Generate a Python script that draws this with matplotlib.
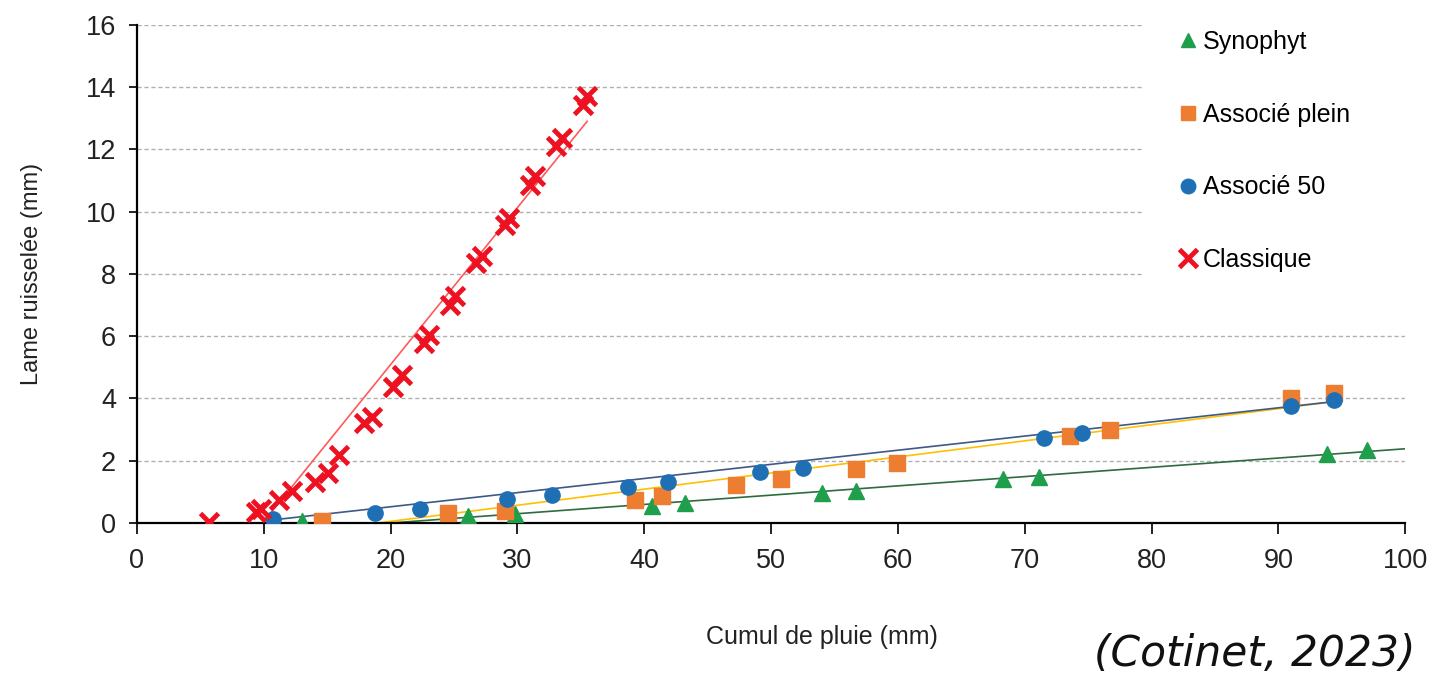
import numpy as np
import matplotlib
matplotlib.use("Agg")
from matplotlib import pyplot as plt
from matplotlib.patches import Rectangle

plt.rcParams['font.family'] = ['Liberation Sans', 'DejaVu Sans']

# Synophyt
syn_x = [13.0, 26.1, 29.8, 40.6, 43.2, 54.0, 56.7, 68.3, 71.1, 93.8, 97.0]
syn_y = [0.05, 0.22, 0.30, 0.55, 0.65, 0.96, 1.04, 1.40, 1.47, 2.22, 2.35]
# Associe plein
ap_x = [14.6, 24.5, 29.0, 39.3, 41.4, 47.2, 50.8, 56.7, 59.9, 73.6, 76.7, 91.0, 94.4]
ap_y = [0.06, 0.31, 0.40, 0.74, 0.87, 1.21, 1.40, 1.74, 1.93, 2.80, 2.99, 4.01, 4.18]
# Associe 50
a50_x = [10.7, 18.8, 22.3, 29.2, 32.7, 38.7, 41.9, 49.1, 52.5, 71.5, 74.5, 91.0, 94.4]
a50_y = [0.12, 0.33, 0.46, 0.76, 0.89, 1.17, 1.32, 1.65, 1.78, 2.73, 2.88, 3.76, 3.96]
# Classique
cl_x = [5.7, 9.4, 9.8, 11.2, 12.2, 14.0, 15.1, 15.9, 17.9, 18.5, 20.2, 20.9, 22.6, 23.0,
        24.7, 25.1, 26.7, 27.2, 29.0, 29.3, 31.0, 31.4, 33.0, 33.5, 35.2, 35.5]
cl_y = [0.03, 0.36, 0.44, 0.74, 1.03, 1.33, 1.60, 2.20, 3.20, 3.42, 4.38, 4.76, 5.78, 6.05,
        7.00, 7.28, 8.35, 8.56, 9.58, 9.80, 10.87, 11.14, 12.10, 12.35, 13.44, 13.70]

# linear trend lines as read on the chart (slope, intercept, x start, x end)
trend_slope = [0.0298, 0.0517, 0.0454, 0.504]
trend_icpt = [-0.595, -0.98, -0.386, -4.99]
trend_x0 = [13.0, 14.6, 10.7, 5.7]
trend_x1 = [100.0, 94.4, 94.4, 35.5]

names = ["Synophyt", "Associé plein", "Associé 50", "Classique"]
xs_all = [syn_x, ap_x, a50_x, cl_x]
ys_all = [syn_y, ap_y, a50_y, cl_y]
markers = ['^', 's', 'o', 'x']
colors = ['#1f9e4b', '#ed7d31', '#1f6fb5', '#ee1122']
tcolors = ['#2f6b3f', '#ffc000', '#3d5a86', '#ff5a5a']

fig = plt.figure(figsize=(14.33, 6.76), dpi=100)
ax = fig.add_axes([0.0956, 0.2263, 0.885, 0.737])

handles = []
for i in range(4):
    xt = np.array([trend_x0[i], trend_x1[i]])
    ax.plot(xt, trend_slope[i] * xt + trend_icpt[i], color=tcolors[i], lw=1.2, zorder=2)
    if markers[i] == 'x':
        h, = ax.plot(xs_all[i], ys_all[i], 'x', color=colors[i], ms=13, mew=3.5,
                     ls='none', zorder=3, label=names[i])
    else:
        h, = ax.plot(xs_all[i], ys_all[i], markers[i], color=colors[i], ms=11,
                     ls='none', zorder=3, label=names[i])
    handles.append(h)

ax.set_xlim(0, 100)
ax.set_ylim(0, 16)
ax.set_xticks(np.arange(0, 101, 10))
ax.set_yticks(np.arange(0, 17, 2))
ax.grid(axis='y', color='#b0b0b0', ls=(0, (3, 2)), lw=1)
ax.set_axisbelow(True)
for s in ['top', 'right']:
    ax.spines[s].set_visible(False)
ax.spines['left'].set_linewidth(1.6)
ax.spines['bottom'].set_linewidth(1.6)
ax.tick_params(axis='x', direction='out', length=8, width=1.4, pad=10, labelsize=19.5, colors='#222222')
ax.tick_params(axis='y', direction='out', length=6, width=1.4, pad=9, labelsize=19.5, colors='#222222')

ax.set_xlabel("Cumul de pluie (mm)", fontsize=18, color='#222222')
ax.xaxis.set_label_coords(0.54, -0.205)
ax.set_ylabel("Lame ruisselée (mm)", fontsize=17, color='#222222')
ax.yaxis.set_label_coords(-0.074, 0.5)

# white box behind the legend hides the grid there
ax.add_patch(Rectangle((0.7926, 0.45), 0.3, 0.6, transform=ax.transAxes, clip_on=False,
                       facecolor='white', edgecolor='none', zorder=1))

leg = ax.legend(handles=handles, loc='upper left', bbox_to_anchor=(0.8, 1.045),
                frameon=False, fontsize=18, markerscale=0.95, handlelength=0.7,
                handletextpad=0.25, labelspacing=1.95, borderpad=0.6)
leg.set_zorder(5)

fig.text(0.988, 0.032, "(Cotinet, 2023)", family='DejaVu Sans', style='italic',
         fontsize=30.5, ha='right', va='center', color='#111111')

fig.savefig("out.png", dpi=100)
